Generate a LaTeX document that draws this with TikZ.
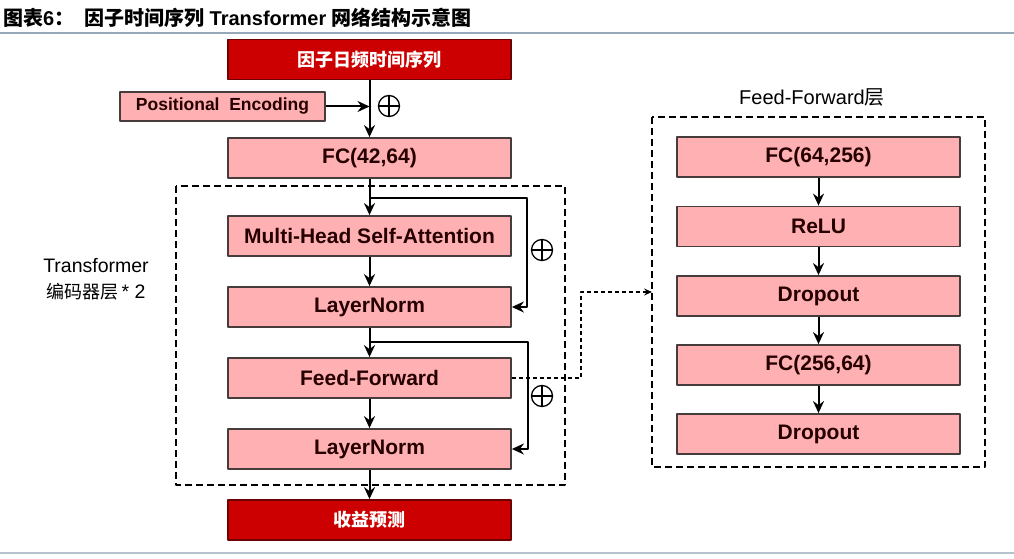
\documentclass[tikz,border=0pt]{standalone}
\usepackage{fontspec}
\setmainfont{Liberation Sans}
\newfontfamily\cjk{Noto Sans CJK SC}
\usetikzlibrary{positioning,arrows.meta}
\definecolor{boxpink}{RGB}{255,176,178}
\definecolor{boxline}{RGB}{70,60,60}
\definecolor{deepred}{RGB}{204,0,0}
\definecolor{deepline}{RGB}{110,0,0}
\definecolor{rulegray}{RGB}{150,168,185}
\tikzset{
  layer/.style={draw=boxline, fill=boxpink, line width=1.8pt, minimum width=283pt, minimum height=40pt,
    inner sep=0pt, text=black!85!red, font=\fontsize{21}{23}\selectfont\bfseries},
  iobox/.style={draw=deepline, fill=deepred, line width=1.8pt, minimum width=283pt, minimum height=40pt,
    inner sep=0pt, text=white, font=\fontsize{18}{20}\selectfont\cjk\bfseries},
  oplus/.style={circle, draw, line width=1.3pt, minimum size=21pt, inner sep=0pt,
    path picture={\draw[line width=1.3pt] (path picture bounding box.north) -- (path picture bounding box.south)
      (path picture bounding box.west) -- (path picture bounding box.east);}},
  frame/.style={draw, line width=1.8pt, dash pattern=on 7pt off 4pt},
}
\begin{document}
\begin{tikzpicture}[x=1pt, y=-1pt, line join=round, >={Stealth[length=12pt, width=11pt, inset=4pt]}, line width=2pt]
  \useasboundingbox (0,0) rectangle (1014,559);
  % title and rules
  \node[anchor=west, inner sep=0pt, font=\fontsize{20}{22}\selectfont\bfseries] (title) at (2,18)
    {{\cjk 图表}6{\cjk ：}\hspace{10pt}{\cjk 因子时间序列} Transformer {\cjk 网络结构示意图}};
  \draw[rulegray, line width=1.5pt] (0,33) -- (1014,33);
  \draw[rulegray!70, line width=2.5pt] (0,553) -- (1014,553);
  % main column
  \node[iobox] (input) at (369.5,59.5) {因子日频时间序列};
  \node[layer, minimum width=205pt, minimum height=29pt, font=\fontsize{17.5}{19}\selectfont\bfseries]
    (pe) at (222.5,106.5) {Positional\ \ Encoding};
  \node[layer] (fc) at (369.5,158) {FC(42,64)};
  \node[layer] (mhsa) at (369.5,236) {Multi-Head Self-Attention};
  \node[layer] (ln1) at (369.5,307) {LayerNorm};
  \node[layer] (ff) at (369.5,378) {Feed-Forward};
  \node[layer] (ln2) at (369.5,449) {LayerNorm};
  \node[iobox] (output) at (369.5,520) {收益预测};
  \node[oplus] (add0) at (389,106) {};
  \node[oplus] (add1) at (542,250) {};
  \node[oplus] (add2) at (542,396) {};
  \draw[frame] (176,186) rectangle (565,485);
  \node[align=center, font=\fontsize{19.5}{26}\selectfont] (enc) at (96,279)
    {Transformer\\{\cjk\fontsize{18}{26}\selectfont 编码器层}\,* 2};
  % feed-forward detail
  \node[layer] (fc2) at (818.5,157) {FC(64,256)};
  \node[layer] (relu) at (818.5,226.5) {ReLU};
  \node[layer] (drop1) at (818.5,296) {Dropout};
  \node[layer] (fc3) at (818.5,365) {FC(256,64)};
  \node[layer] (drop2) at (818.5,434) {Dropout};
  \draw[frame] (652,117) rectangle (985,467);
  \node[font=\fontsize{20}{22}\selectfont] (fflabel) at (812,97) {Feed-Forward{\cjk 层}};
  % connectors
  \coordinate (s1) at (369.5,198);
  \coordinate (t1) at (527,198);
  \coordinate (s2) at (369.5,342);
  \coordinate (t2) at (528,342);
  \coordinate (bend) at (581,378);
  \coordinate (ffin) at (652,292);
  \draw[->] (input) -- (fc);
  \draw[->] (pe) -- (pe -| fc.north);
  \draw[->] (fc) -- (mhsa);
  \draw[->] (s1) -- (t1) |- (ln1.east);
  \draw[->] (mhsa) -- (ln1);
  \draw[->] (ln1) -- (ff);
  \draw[->] (s2) -- (t2) |- (ln2.east);
  \draw[->] (ff) -- (ln2);
  \draw[->] (ln2) -- (output);
  \draw[-{Stealth[length=8pt, width=7pt, inset=3pt]}, line width=1.5pt, dash pattern=on 4pt off 3pt]
    (ff.east) -- (bend) |- (ffin);
  \foreach \a/\b in {fc2/relu, relu/drop1, drop1/fc3, fc3/drop2}
    \draw[->] (\a) -- (\b);
\end{tikzpicture}
\end{document}
